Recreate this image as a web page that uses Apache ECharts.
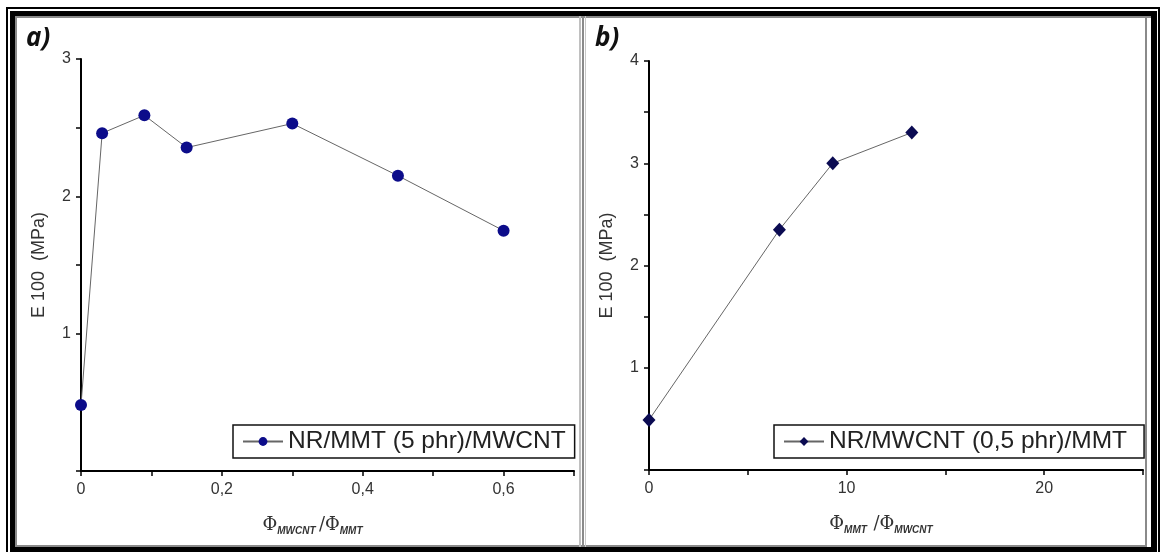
<!DOCTYPE html>
<html><head><meta charset="utf-8">
<script src="https://cdn.jsdelivr.net/npm/echarts@6/dist/echarts.min.js"></script>
<style>html,body{margin:0;padding:0;background:#fff}#c{width:1162px;height:552px}</style>
</head><body><div id="c"></div>
<script>
// Panel a: NR/MMT (5 phr)/MWCNT
var xA = [0, 0.03, 0.09, 0.15, 0.30, 0.45, 0.60];
var yA = [0.48, 2.46, 2.59, 2.355, 2.53, 2.15, 1.75];
// Panel b: NR/MWCNT (0,5 phr)/MMT
var xB = [0, 6.6, 9.3, 13.3];
var yB = [0.49, 2.35, 3.0, 3.3];
var seriesNames = ['NR/MMT (5 phr)/MWCNT', 'NR/MWCNT (0,5 phr)/MMT'];
var yName = 'E 100  (MPa)';

function pairs(xs, ys){ return xs.map(function(x,i){return [x, ys[i]];}); }
var chart = echarts.init(document.getElementById('c'));
var F = 'Liberation Sans, Arial, sans-serif';
var axisLine = {show:true, lineStyle:{color:'#000', width:2}};
var axisTick = {show:true, inside:false, length:5, lineStyle:{color:'#000', width:1.5}};
function lbl(fmt, m){ return {color:'#333', fontSize:16, fontFamily:F, margin:m, formatter:fmt}; }
var subSt = {fontSize:10, fontWeight:'bold', fontStyle:'italic', fontFamily:F, color:'#333', padding:[11,0,0,0]};
var phiSt = {fontSize:18, fontFamily:'DejaVu Serif, serif', color:'#333'};

var frame = [];
function box(x,y,w,h,c){ frame.push({type:'rect', shape:{x:x,y:y,width:w,height:h}, style:{fill:c}, silent:true, z:100}); }
// thin outer black line
box(6,7,1154,2,'#000'); box(6,7,2,545,'#000'); box(1158,7,2,545,'#000');
// thick black border
box(10,11,1147,5,'#000'); box(10,11,5,541,'#000'); box(1151,11,6,541,'#000'); box(10,547,1147,5,'#000');
// gray inner lines
box(15,16,1136,2,'#8a8a8a'); box(15,16,2,531,'#8a8a8a'); box(1145,16,2,531,'#8a8a8a'); box(15,545,1132,2,'#8a8a8a');
// divider
box(579,16,2,531,'#c0c0c0'); box(582,16,2,531,'#8a8a8a'); box(585,16,1,531,'#c8c8c8');
frame.push({type:'text', left:26, top:26, style:{text:'a)', font:'italic bold 26px "Open Sans", sans-serif', fill:'#111'}, z:100});
frame.push({type:'text', left:595, top:26, style:{text:'b)', font:'italic bold 26px "Open Sans", sans-serif', fill:'#111'}, z:100});

var legendText = {fontSize:24.5, fontFamily:F, color:'#222'};
chart.setOption({
  animation:false,
  backgroundColor:'#fff',
  graphic: frame,
  grid:[
    {left:81, right:588, top:59, bottom:81},
    {left:649, right:19, top:61, bottom:82}
  ],
  xAxis:[
    {type:'value', gridIndex:0, min:0, max:0.7, interval:0.1, splitLine:{show:false},
     axisLine:axisLine, axisTick:axisTick,
     axisLabel:lbl(function(v){ var r=Math.round(v*10); return (r%2===0 && r<7)? String(r/10).replace('.',','):''; }, 11),
     name:'{phi|Φ}{sub|MWCNT} {phi|/Φ}{sub|MMT}', nameLocation:'middle', nameGap:44,
     nameTextStyle:{padding:[0,30,0,0], rich:{phi:phiSt, sub:subSt}}},
    {type:'value', gridIndex:1, min:0, max:25, interval:5, splitLine:{show:false},
     axisLine:axisLine, axisTick:axisTick,
     axisLabel:lbl(function(v){ return (v%10===0)? String(v):''; }, 11),
     name:'{phi|Φ}{sub|MMT}  {phi|/Φ}{sub|MWCNT}', nameLocation:'middle', nameGap:44,
     nameTextStyle:{padding:[0,30,0,0], rich:{phi:phiSt, sub:subSt}}}
  ],
  yAxis:[
    {type:'value', gridIndex:0, min:0, max:3, interval:0.5, splitLine:{show:false},
     axisLine:axisLine, axisTick:axisTick,
     axisLabel:lbl(function(v){ return (v>0 && v%1===0)? String(v):''; }, 10),
     name:yName, nameLocation:'middle', nameGap:33, nameTextStyle:{fontSize:18, fontFamily:F, color:'#333'}},
    {type:'value', gridIndex:1, min:0, max:4, interval:0.5, splitLine:{show:false},
     axisLine:axisLine, axisTick:axisTick,
     axisLabel:lbl(function(v){ return (v>0 && v%1===0)? String(v):''; }, 10),
     name:yName, nameLocation:'middle', nameGap:33, nameTextStyle:{fontSize:18, fontFamily:F, color:'#333'}}
  ],
  legend:[
    {data:[seriesNames[0]], left:233, top:425, orient:'horizontal', borderColor:'#111', borderWidth:1.5,
     padding:[4,9,4,9], itemWidth:40, itemHeight:11, itemGap:5, textStyle:legendText},
    {data:[seriesNames[1]], left:774, top:425, orient:'horizontal', borderColor:'#111', borderWidth:1.5,
     padding:[4,17,4,9], itemWidth:40, itemHeight:11, itemGap:5, textStyle:legendText}
  ],
  series:[
    {name:seriesNames[0], type:'line', xAxisIndex:0, yAxisIndex:0, data:pairs(xA,yA),
     symbol:'circle', symbolSize:12, lineStyle:{color:'#666', width:1},
     itemStyle:{color:'#0c0c8a'}},
    {name:seriesNames[1], type:'line', xAxisIndex:1, yAxisIndex:1, data:pairs(xB,yB),
     symbol:'diamond', symbolSize:[13,14], lineStyle:{color:'#666', width:1},
     itemStyle:{color:'#0b0b52'}}
  ]
});
</script>
</body></html>
